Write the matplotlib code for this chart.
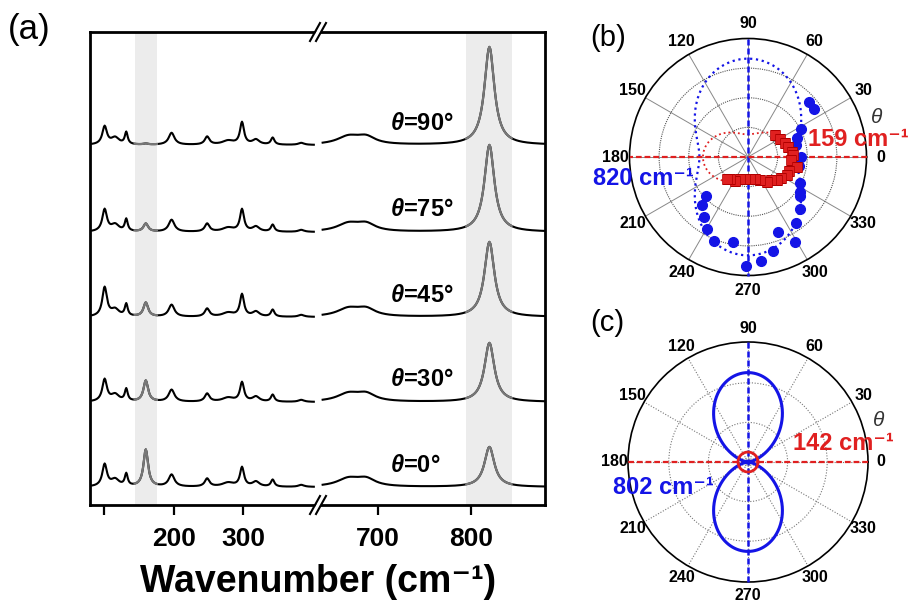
import numpy as np
import matplotlib.pyplot as plt
from matplotlib.lines import Line2D
from matplotlib.patches import Polygon

plt.rcParams['font.family'] = ['Liberation Sans', 'DejaVu Sans']
plt.rcParams['mathtext.fontset'] = 'custom'
plt.rcParams['mathtext.rm'] = 'Liberation Sans'
plt.rcParams['mathtext.it'] = 'Liberation Sans:italic:bold'
plt.rcParams['mathtext.bf'] = 'Liberation Sans:bold'

# ---- panel (a): Raman spectra ----
theta_list = [0, 30, 45, 75, 90]
offsets = [0, 85, 170, 255, 342]
h820 = [40, 59, 75, 87, 98]
h159 = [37, 21, 14, 8, 1]
h101 = [22, 22, 29, 22, 18]
h298 = [19, 19, 22, 22, 22]
# peaks that stay about the same for every angle: position, fwhm, height
low_pos = [116, 132, 197, 248, 278, 318, 342, 383]
low_fwhm = [14, 5, 10, 8, 20, 12, 6, 10]
low_height = [7, 12, 12, 8, 4, 5, 7, 2]
high_pos = [668, 687]
high_fwhm = [30, 24]
high_height = [8, 7]
band_low = (144, 176)
band_high = (795, 844)

# ---- panel (b): polar data ----
blue_ang = [42, 36, 28, 21, 14, 0, 350, 333, 326, 323, 315, 306, 299, 292, 285, 277, 269, 260, 248, 240, 234, 226, 223]
blue_r = [0.69, 0.69, 0.51, 0.44, 0.42, 0.45, 0.44, 0.49, 0.53, 0.55, 0.62, 0.69, 0.82, 0.68, 0.82, 0.88, 0.92, 0.73, 0.76, 0.70, 0.63, 0.56, 0.48]
red_ang = [39, 30, 21, 14, 7, 2, 356, 349, 341, 335, 328, 321, 315, 307, 297, 287, 275, 262, 251, 242, 232, 226]
red_r = [0.29, 0.31, 0.33, 0.35, 0.37, 0.38, 0.365, 0.425, 0.37, 0.36, 0.33, 0.31, 0.28, 0.26, 0.22, 0.195, 0.19, 0.19, 0.20, 0.23, 0.24, 0.26]
# fit curves  r = a + b*sin^2 (blue)  /  r = a + b*cos^2 (red)
fit_b_blue = (0.41, 0.42)
fit_b_red = (0.19, 0.19)
fit_c_blue = (0.0, 0.745)
fit_c_red = 0.083

BLUE = '#1414e6'
RED = '#e02020'

W, H = 909, 604


def fx(px):
    return px / W


def fy(py):
    return 1 - py / H


def lor(x, x0, w, h):
    return h / (1 + ((x - x0) / (w / 2.0)) ** 2)


fig = plt.figure(figsize=(W / 100, H / 100), dpi=100)

axL = fig.add_axes([fx(90), fy(505), fx(318) - fx(90), fy(32) - fy(505)])
axR = fig.add_axes([fx(318), fy(505), fx(545) - fx(318), fy(32) - fy(505)])

xl = np.arange(83, 402, 1.0)
xr = np.arange(640, 880, 1.0)

for i, th in enumerate(theta_list):
    yl = lor(xl, 101, 8, h101[i]) + lor(xl, 160, 8, h159[i]) + lor(xl, 298, 7, h298[i])
    for p, w, h in zip(low_pos, low_fwhm, low_height):
        yl = yl + lor(xl, p, w, h)
    yr = lor(xr, 820, 13, h820[i])
    for p, w, h in zip(high_pos, high_fwhm, high_height):
        yr = yr + lor(xr, p, w, h)
    yl = yl + offsets[i]
    yr = yr + offsets[i]
    axL.plot(xl, yl, color='black', lw=1.5)
    axR.plot(xr, yr, color='black', lw=1.5)
    m = (xl >= band_low[0]) & (xl <= band_low[1])
    axL.plot(xl[m], yl[m], color='#777777', lw=1.6)
    m = (xr >= band_high[0]) & (xr <= band_high[1])
    axR.plot(xr[m], yr[m], color='#777777', lw=1.6)
    axR.text(713, offsets[i] + 22, r'$\theta$=%d°' % th, fontsize=17,
             fontweight='bold', ha='left', va='center')

axL.axvspan(band_low[0], band_low[1], color='#ececec', lw=0, zorder=0)
axR.axvspan(band_high[0], band_high[1], color='#ececec', lw=0, zorder=0)

for ax in (axL, axR):
    ax.set_ylim(-18, 455)
    ax.set_yticks([])
    for s in ax.spines.values():
        s.set_linewidth(2)
    ax.tick_params(axis='x', direction='out', length=7, width=1.6, pad=9)
axL.set_xlim(80, 407)
axR.set_xlim(635, 880)
axL.spines['right'].set_visible(False)
axR.spines['left'].set_visible(False)
axL.set_xticks([100, 200, 300])
axL.set_xticklabels(['', '200', '300'], fontsize=19, fontweight='bold')
axR.set_xticks([700, 800])
axR.set_xticklabels(['700', '800'], fontsize=19, fontweight='bold')

fig.text(fx(318), fy(592), 'Wavenumber (cm⁻¹)', ha='center',
         va='baseline', fontsize=27, fontweight='bold')

# break marks
for yb in (32, 505):
    fig.add_artist(Polygon([(fx(311), fy(yb + 9)), (fx(321), fy(yb - 9)),
                            (fx(326), fy(yb - 9)), (fx(316), fy(yb + 9))],
                           closed=True, facecolor='white', edgecolor='none', zorder=5))
    for cx in (315, 321):
        fig.add_artist(Line2D([fx(cx - 5), fx(cx + 5)], [fy(yb + 9), fy(yb - 9)],
                              color='black', lw=1.5, zorder=6))

fig.text(fx(8), fy(29), '(a)', fontsize=25, ha='left', va='center')
fig.text(fx(590), fy(38), '(b)', fontsize=21, ha='left', va='center')
fig.text(fx(590), fy(323), '(c)', fontsize=21, ha='left', va='center')

# ---- polar panels ----
axB = fig.add_axes([fx(748 - 118.5), fy(157 + 118.5), 237 / W, 237 / H], projection='polar')
axC = fig.add_axes([fx(748 - 120), fy(462 + 120), 240 / W, 240 / H], projection='polar')

t = np.linspace(0, 2 * np.pi, 721)

for ax in (axB, axC):
    ax.set_ylim(0, 1)
    ax.set_thetagrids(range(0, 360, 30), labels=[str(a) for a in range(0, 360, 30)])
    ax.set_yticklabels([])
    ax.tick_params(axis='x', labelsize=11.5, pad=0)
    plt.setp(ax.get_xticklabels(), fontweight='bold')
    ax.spines['polar'].set_linewidth(1.2)
    ax.plot([np.pi / 2, np.pi / 2, 1.5 * np.pi, 1.5 * np.pi], [1, 0, 0, 1], color=BLUE,
            lw=1.8, ls=(0, (2.4, 1.2)), clip_on=False, zorder=4)
    ax.plot([0, 0, np.pi, np.pi], [1, 0, 0, 1], color=RED,
            lw=1.6, ls=(0, (2.6, 1.3)), clip_on=False, zorder=4)
axC.tick_params(axis='x', pad=-1)

axB.set_yticks([0.25, 0.5, 0.75])
axB.xaxis.grid(True, color='#888888', lw=0.7, ls='-')
axB.yaxis.grid(True, color='#555555', lw=0.8, ls=(0, (1, 1)))
axC.set_yticks([0.035, 0.33, 0.66])
axC.xaxis.grid(True, color='#777777', lw=0.8, ls=(0, (1, 1.5)))
axC.yaxis.grid(True, color='#777777', lw=0.8, ls=(0, (1, 1.5)))

axB.plot(t, fit_b_blue[0] + fit_b_blue[1] * np.sin(t) ** 2, color=BLUE, lw=1.6, ls=':')
axB.plot(t, fit_b_red[0] + fit_b_red[1] * np.cos(t) ** 2, color=RED, lw=1.3, ls=':')
axB.plot(np.radians(blue_ang), blue_r, 'o', color=BLUE, ms=7, zorder=5)
axB.plot(np.radians(red_ang), red_r, 's', mfc=RED, mec='#b00000', mew=0.5, ms=6.5, zorder=6)

axC.plot(t, fit_c_blue[0] + fit_c_blue[1] * np.sin(t) ** 2, color=BLUE, lw=2.2, zorder=5)
axC.plot(t, np.full_like(t, fit_c_red), color=RED, lw=2, zorder=6)

axB.text(1.044, 0.665, 'θ', transform=axB.transAxes, fontsize=15, fontstyle='italic',
         color='#333333', ha='center', va='center')
axC.text(1.045, 0.675, 'θ', transform=axC.transAxes, fontsize=15, fontstyle='italic',
         color='#333333', ha='center', va='center')

axB.text(0.755, 0.545, '159 cm⁻¹', transform=axB.transAxes, color=RED,
         fontsize=17, fontweight='bold', ha='left', va='baseline')
axB.text(-0.155, 0.382, '820 cm⁻¹', transform=axB.transAxes, color=BLUE,
         fontsize=17, fontweight='bold', ha='left', va='baseline')
axC.text(0.686, 0.55, '142 cm⁻¹', transform=axC.transAxes, color=RED,
         fontsize=17, fontweight='bold', ha='left', va='baseline')
axC.text(-0.062, 0.368, '802 cm⁻¹', transform=axC.transAxes, color=BLUE,
         fontsize=17, fontweight='bold', ha='left', va='baseline')

fig.savefig('out.png', dpi=100)
